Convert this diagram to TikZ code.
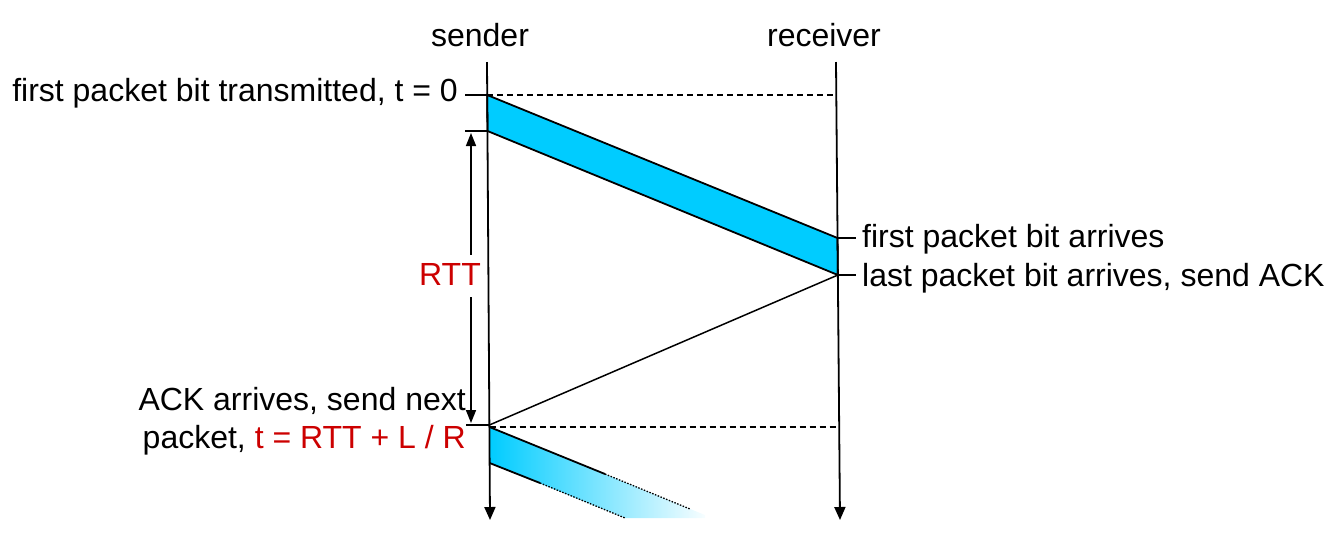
\documentclass[tikz,border=0pt]{standalone}
\usepackage{fontspec}
\setmainfont{Liberation Sans}
\usetikzlibrary{arrows.meta}
\definecolor{pkt}{HTML}{00CCFF}
\definecolor{rttred}{HTML}{CC0000}
\begin{document}
\begin{tikzpicture}[x=1pt,y=-1pt,
  lbl/.style={inner sep=0pt,font=\fontsize{32}{38}\selectfont},
  timeline/.style={line width=1.8pt,-{Triangle[width=11pt,length=13pt]}},
  edge/.style={line width=1.8pt},
  tick/.style={line width=1.8pt},
  guide/.style={line width=1.3pt,dash pattern=on 6pt off 4pt},
  dotline/.style={line width=1.3pt,dash pattern=on 1.5pt off 1.5pt}]
\useasboundingbox (0,0) rectangle (1338,539);
% coordinates
\coordinate (sTop) at (487,62);
\coordinate (sBot) at (490,520);
\coordinate (rTop) at (836,62);
\coordinate (rBot) at (840,520);
\coordinate (p1a) at (487.2,95);
\coordinate (p1b) at (487.5,131);
\coordinate (p1c) at (837.5,238);
\coordinate (p1d) at (837.9,275);
\coordinate (d1e) at (836.3,95);
\coordinate (ackS) at (489.4,425);
\coordinate (p2a) at (489.5,427);
\coordinate (p2b) at (489.6,463);
\coordinate (d2e) at (839.2,427);
\coordinate (p2tS) at (605,474);
\coordinate (p2tE) at (690,509);
\coordinate (p2bS) at (540,483);
\coordinate (p2bE) at (625,518);
\coordinate (t0a) at (465,95);
\coordinate (t1a) at (465,131);
\coordinate (t2a) at (466,425);
\coordinate (fa) at (856,238);
\coordinate (la) at (856,275);
\coordinate (rttTop) at (471,133);
\coordinate (rttBot) at (471,423);
% packet 1
\filldraw[fill=pkt,edge] (p1a) -- (p1c) -- (p1d) -- (p1b) -- cycle;
% packet 2 fading
\begin{scope}
\clip (p2a) -- (705,515) -- (705,518) -- (p2bE) -- (p2b) -- cycle;
\shade[left color=pkt,right color=white] (489.5,427) rectangle (712,520);
\end{scope}
\draw[edge] (p2a) -- (p2tS);
\draw[dotline] (p2tS) -- (p2tE);
\draw[edge] (p2b) -- (p2bS);
\draw[dotline] (p2bS) -- (p2bE);
% ACK
\draw[line width=1.5pt] (p1d) -- (ackS);
% dashed guides
\draw[guide] (p1a) -- (d1e);
\draw[guide] (p2a) -- (d2e);
% time lines
\draw[timeline] (sTop) -- (sBot);
\draw[timeline] (rTop) -- (rBot);
% ticks
\draw[tick] (t0a) -- (p1a);
\draw[tick] (t1a) -- (p1b);
\draw[tick] (t2a) -- (ackS);
\draw[tick] (p1c) -- (fa);
\draw[tick] (p1d) -- (la);
% labels
\node[lbl,anchor=base] (snd) at (480,46) {sender};
\node[lbl,anchor=base] (rcv) at (824,46) {receiver};
\node[lbl,anchor=base east] (ft) at (458,101) {first packet bit transmitted, t = 0};
\node[lbl,anchor=base west] (fpa) at (862,247) {first packet bit arrives};
\node[lbl,anchor=base west] (lpa) at (862,286) {last packet bit arrives, send ACK};
\node[lbl,anchor=base,text=rttred] (rtt) at (450,285) {RTT};
\node[lbl,anchor=base east] (ack1) at (466,410) {ACK arrives, send next};
\node[lbl,anchor=base east] (ack2) at (466,448) {packet, \textcolor{rttred}{t = RTT + L / R}};
% RTT arrow
\draw[line width=1.5pt,-{Triangle[width=10pt,length=13pt]}] (rtt.north -| rttTop) ++(0,-8) -- (rttTop);
\draw[line width=1.5pt,-{Triangle[width=10pt,length=13pt]}] (rtt.south -| rttBot) ++(0,12) -- (rttBot);
\end{tikzpicture}
\end{document}
